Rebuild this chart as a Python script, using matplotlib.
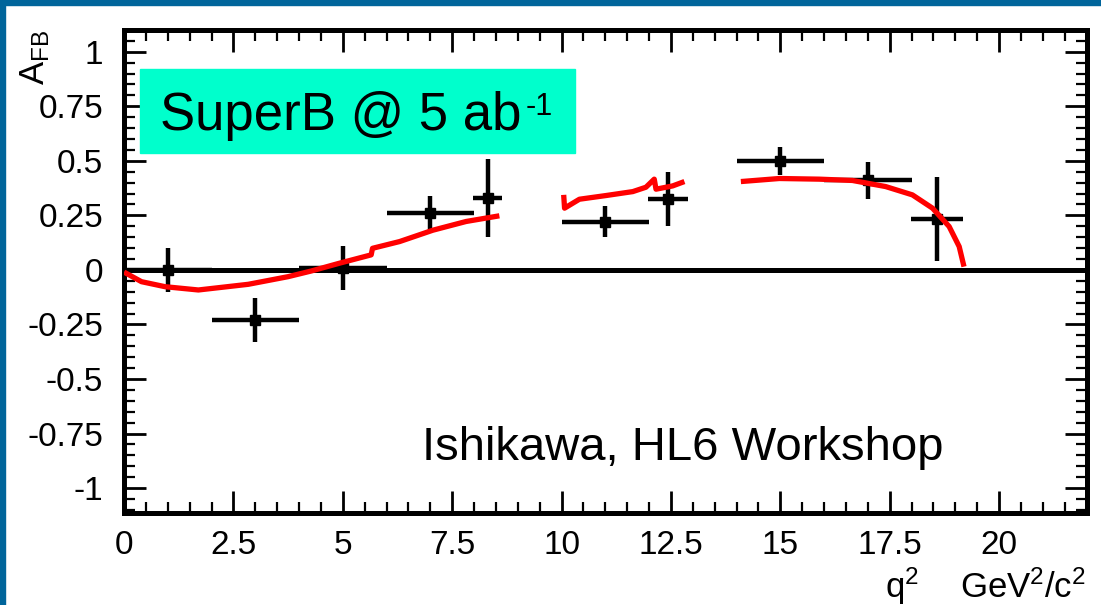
import matplotlib
matplotlib.use("Agg")
import matplotlib.pyplot as plt
from matplotlib.patches import Rectangle
from matplotlib.ticker import FixedLocator, MultipleLocator

plt.rcParams["font.family"] = ["Liberation Sans", "DejaVu Sans"]
plt.rcParams["axes.unicode_minus"] = False
plt.rcParams["mathtext.fontset"] = "custom"
plt.rcParams["mathtext.rm"] = "Liberation Sans"
plt.rcParams["mathtext.it"] = "Liberation Sans:italic"
plt.rcParams["mathtext.bf"] = "Liberation Sans:bold"

# binned SuperB A_FB projection (bin centre, half width, value, error)
Q2_CENTER = [1.0, 3.0, 5.0, 7.0, 8.31, 11.0, 12.43, 15.0, 17.0, 18.58]
Q2_HALF   = [1.0, 1.0, 1.0, 1.0, 0.34, 1.0, 0.45, 1.0, 1.0, 0.60]
AFB       = [0.0, -0.23, 0.01, 0.26, 0.33, 0.22, 0.325, 0.50, 0.41, 0.235]
AFB_ERR   = [0.10, 0.10, 0.10, 0.08, 0.177, 0.071, 0.126, 0.063, 0.086, 0.193]

# SM curve, three q2 regions
SM_LOW_Q2  = [0.0, 0.4, 0.94, 1.7, 2.84, 3.75, 4.28, 4.93, 5.65, 5.68, 6.30, 7.06, 7.82, 8.58]
SM_LOW_AFB = [-0.01, -0.054, -0.077, -0.092, -0.066, -0.031, -0.005, 0.031, 0.069, 0.099, 0.13, 0.182, 0.222, 0.248]
SM_MID_Q2  = [10.05, 10.07, 10.26, 10.41, 11.02, 11.63, 11.93, 12.12, 12.16, 12.54, 12.81]
SM_MID_AFB = [0.344, 0.283, 0.306, 0.324, 0.341, 0.359, 0.379, 0.416, 0.370, 0.385, 0.405]
SM_HIGH_Q2  = [14.10, 14.98, 15.89, 16.65, 17.41, 18.02, 18.48, 18.86, 19.09, 19.20]
SM_HIGH_AFB = [0.405, 0.419, 0.416, 0.410, 0.382, 0.344, 0.283, 0.199, 0.107, 0.015]

X_TICKS = [0, 2.5, 5, 7.5, 10, 12.5, 15, 17.5, 20]
X_TICK_LABELS = ["0", "2.5", "5", "7.5", "10", "12.5", "15", "17.5", "20"]
Y_TICKS = [-1, -0.75, -0.5, -0.25, 0, 0.25, 0.5, 0.75, 1]
Y_TICK_LABELS = ["-1", "-0.75", "-0.5", "-0.25", "0", "0.25", "0.5", "0.75", "1"]

W, H = 1101, 605
fig = plt.figure(figsize=(W / 100, H / 100), dpi=100)
fig.patch.set_facecolor("white")

# slide frame (blue strips top and left)
fig.patches.append(Rectangle((0, 1 - 5 / H), 1, 5 / H, transform=fig.transFigure,
                             color="#00659B", zorder=5))
fig.patches.append(Rectangle((0, 0), 5 / W, 1, transform=fig.transFigure,
                             color="#00659B", zorder=5))

ax = fig.add_axes([124 / W, 1 - 512.5 / H, (1086.5 - 124) / W, (512.5 - 29.5) / H])
ax.set_xlim(0, 22)
ax.set_ylim(-1.112, 1.102)

ax.axhline(0, color="black", lw=3.6, zorder=1)
ax.errorbar(Q2_CENTER, AFB, xerr=Q2_HALF, yerr=AFB_ERR, fmt="s", color="black",
            ms=6.5, elinewidth=3.2, capsize=0, zorder=2)
for xs, ys in [(SM_LOW_Q2, SM_LOW_AFB), (SM_MID_Q2, SM_MID_AFB), (SM_HIGH_Q2, SM_HIGH_AFB)]:
    ax.plot(xs, ys, color="#ff0000", lw=3.8, solid_capstyle="butt", zorder=3)

ax.xaxis.set_major_locator(FixedLocator(X_TICKS))
ax.set_xticklabels(X_TICK_LABELS)
ax.yaxis.set_major_locator(FixedLocator(Y_TICKS))
ax.set_yticklabels(Y_TICK_LABELS)
ax.xaxis.set_minor_locator(MultipleLocator(0.5))
ax.yaxis.set_minor_locator(MultipleLocator(0.05))

ax.tick_params(which="both", direction="in", top=True, right=True, colors="black",
               labelsize=24)
ax.tick_params(which="major", length=16, width=2)
ax.tick_params(which="minor", length=8, width=1.6)
ax.tick_params(axis="x", pad=12.5)
ax.tick_params(axis="y", pad=15)
for sp in ax.spines.values():
    sp.set_linewidth(3.6)

fig.text(35 / W, 1 - 30 / H, r"A$_{\mathrm{FB}}$", rotation=90, ha="center", va="top",
         fontsize=25)
fig.text(885 / W, 1 - 598 / H, r"q$^2$", ha="left", va="baseline", fontsize=25)
fig.text(960 / W, 1 - 598 / H, r"GeV$^2$/c$^2$", ha="left", va="baseline", fontsize=25)

# luminosity label box
fig.patches.append(Rectangle((140 / W, 1 - 153 / H), 435 / W, 84 / H,
                             transform=fig.transFigure, color="#00FFCC", zorder=4))
fig.text(160 / W, 1 - 130 / H, "SuperB @ 5 ab", ha="left", va="baseline",
         fontsize=38, zorder=6)
fig.text(526 / W, 1 - 115 / H, "-1", ha="left", va="baseline", fontsize=22, zorder=6)
fig.text(422 / W, 1 - 460 / H, "Ishikawa, HL6 Workshop", ha="left", va="baseline",
         fontsize=34)

plt.savefig("out.png", dpi=100)
plt.close()
